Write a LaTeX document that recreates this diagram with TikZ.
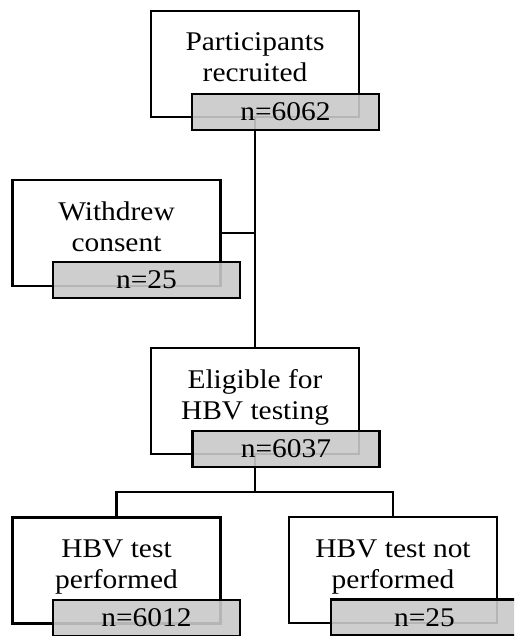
\documentclass[tikz,border=0pt]{standalone}
\usepackage{fontspec}
\setmainfont{Liberation Serif}[FakeStretch=1.09]
\begin{document}
\begin{tikzpicture}[x=1pt,y=-1pt,
  wbox/.style={draw, line width=2.7pt, fill=white, minimum width=208pt, minimum height=106pt, inner sep=0pt},
  gbox/.style={draw, line width=2.7pt, fill=gray!42, fill opacity=0.9, text opacity=1, minimum width=187pt, minimum height=36pt, inner sep=0pt, font=\fontsize{27}{31}\selectfont},
  txt/.style={align=center, inner sep=0pt, anchor=base, font=\fontsize{27}{31}\selectfont},
  conn/.style={line width=2.7pt}]
\useasboundingbox (0,0) rectangle (514,636);
\clip (0,0) rectangle (514,636);
% white boxes
\node[wbox] (b1) at (255,64) {};
\node[wbox] (b2) at (116.5,233) {};
\node[wbox] (b3) at (255,401) {};
\node[wbox] (b4) at (116.5,570.5) {};
\node[wbox] (b5) at (393,570) {};
% texts
\node[txt] (t1) at (255,82) {Participants\\recruited};
\node[txt] (t2) at (116.5,251) {Withdrew\\consent};
\node[txt] (t3) at (255,419) {Eligible for\\HBV testing};
\node[txt] (t4) at (116.5,588) {HBV test\\performed};
\node[txt] (t5) at (393,588) {HBV test not\\performed};
% connectors
\coordinate (j1) at (255,233);
\coordinate (j2) at (255,492);
\draw[conn] (b1.south) -- (b3.north);
\draw[conn] (b2.east) -- (j1);
\draw[conn] (b3.south) -- (j2);
\draw[conn] (b4.north) |- (j2) -| (b5.north);
% grey count boxes
\node[gbox] (g1) at (285.5,112) {n=6062};
\node[gbox] (g2) at (146.5,280) {n=25};
\node[gbox] (g3) at (286,449) {n=6037};
\node[gbox] (g4) at (146.5,618) {n=6012};
\node[gbox] (g5) at (424.5,617.5) {n=25};
\end{tikzpicture}
\end{document}
